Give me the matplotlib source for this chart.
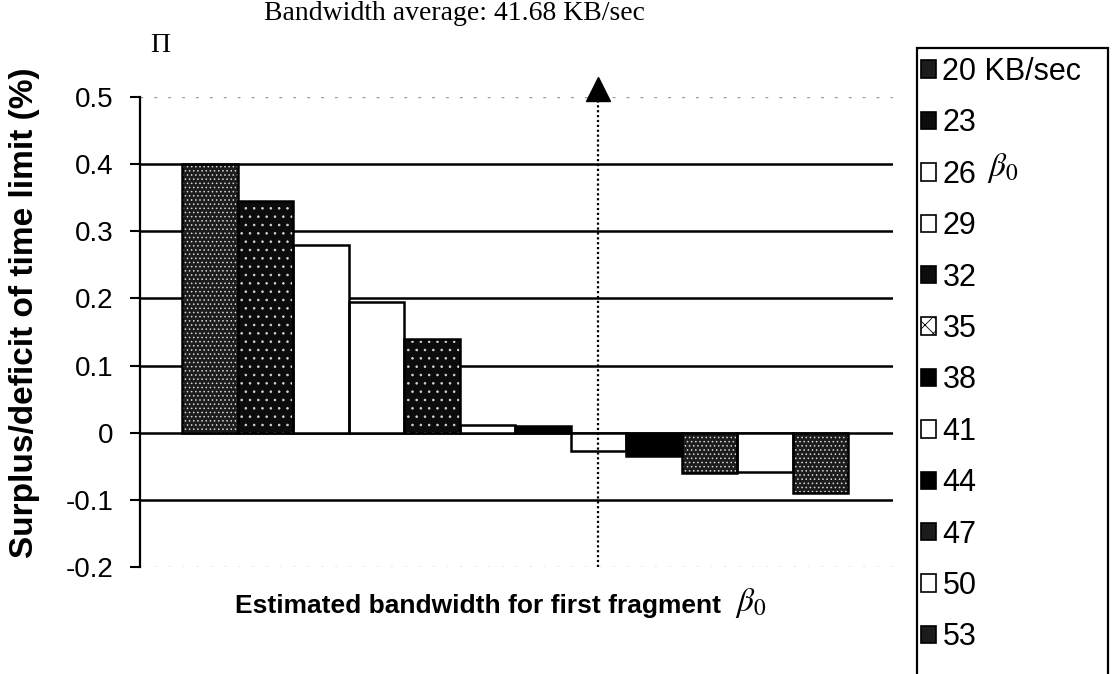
import matplotlib
matplotlib.use("Agg")
import matplotlib.pyplot as plt
from matplotlib.patches import Patch, Rectangle

# beta_0 guesses (KB/sec) and the resulting surplus/deficit of the time limit
labels = ["20 KB/sec", "23", "26", "29", "32", "35", "38", "41", "44", "47", "50", "53"]
values = [0.40, 0.345, 0.28, 0.195, 0.14, 0.012, 0.010, -0.027, -0.035, -0.060, -0.058, -0.090]
faces = ["#1c1c1c", "#0c0c0c", "white", "white", "#0c0c0c", "white",
         "black", "white", "black", "#1c1c1c", "white", "#1c1c1c"]
hatches = ["....", "..", "", "", "..", "", "", "", "", "....", "", "...."]
arrow_label = "41"          # bar nearest to the measured average
yticks = [0.5, 0.4, 0.3, 0.2, 0.1, 0.0, -0.1, -0.2]
ytick_text = ["0.5", "0.4", "0.3", "0.2", "0.1", "0", "-0.1", "-0.2"]

SANS = ["Liberation Sans Narrow", "Liberation Sans", "DejaVu Sans"]
SERIF = ["Liberation Serif", "DejaVu Serif"]

plt.rcParams["hatch.linewidth"] = 0.6

W, H = 1113, 674
fig = plt.figure(figsize=(W / 100, H / 100), dpi=100)
ax = fig.add_axes([140 / W, 1 - 567 / H, (893 - 140) / W, (567 - 97) / H])

x = list(range(len(values)))
# speckle fill (light hatch) then a black outline on top
ax.bar(x, values, width=1.0, color=faces, edgecolor="#d8d8d8", hatch=hatches,
       linewidth=0, zorder=3)
ax.bar(x, values, width=1.0, fill=False, edgecolor="black", linewidth=1.8, zorder=4)

ax.set_xlim(-0.5 - 42 / 55.5, len(values) - 0.5 + 45 / 55.5)
ax.set_ylim(yticks[-1], yticks[0])

# horizontal grid: solid inside, faint dotted at the limits
for t in yticks:
    if t in (yticks[0], yticks[-1]):
        ax.axhline(t, color="#9a9a9a", lw=1.0, ls=(0, (2, 8)), zorder=1)
    else:
        ax.axhline(t, color="black", lw=1.8, zorder=2)

ax.set_yticks(yticks)
ax.set_yticklabels(ytick_text, family=SANS, fontsize=20)
ax.tick_params(axis="y", direction="out", length=7, width=1.5, pad=12)
ax.set_xticks([])
for s in ["top", "right", "bottom"]:
    ax.spines[s].set_visible(False)
ax.spines["left"].set_linewidth(1.6)

# dotted arrow at the average bandwidth
xa = labels.index(arrow_label)
ax.plot([xa, xa], [yticks[-1], yticks[0]], color="black", lw=1.6,
        ls=(0, (1, 1.2)), zorder=5)
ax.plot([xa], [0.512], marker="^", ms=17, color="black", clip_on=False, zorder=6)

# texts
fig.text(454 / W, 1 - 14 / H, "Bandwidth average: 41.68 KB/sec", family=SERIF,
         fontsize=20, ha="center", va="center")
fig.text(160 / W, 1 - 45 / H, "\u03a0", family=SERIF, fontsize=20,
         ha="center", va="center")
fig.text(25 / W, 1 - 313 / H, "Surplus/deficit of time limit (%)", family=SANS,
         fontsize=24, fontweight="bold", rotation=90, ha="center", va="center")
fig.text(478 / W, 1 - 606 / H, "Estimated bandwidth for first fragment", family=SANS,
         fontsize=19, fontweight="bold", ha="center", va="center")
fig.text(751 / W, 1 - 603 / H, r"$\beta_0$", fontsize=24, ha="center", va="center",
         math_fontfamily="stix")

# legend (frame drawn by hand, runs off the bottom of the figure)
fig.patches.append(Rectangle((917 / W, -0.05), (1108 - 917) / W, 1.05 - 48 / H,
                             transform=fig.transFigure, fill=False,
                             edgecolor="black", lw=1.6))
handles = [Patch(facecolor=f, edgecolor="black", lw=1.2,
                 hatch="xx" if lab == "35" else None) for f, lab in zip(faces, labels)]
leg = fig.legend(handles, labels, loc="upper left",
                 bbox_to_anchor=(921 / W, 1 - 57 / H), frameon=False,
                 prop={"family": SANS, "size": 22}, handlelength=0.5,
                 handleheight=0.5, handletextpad=0.2, labelspacing=0.70,
                 borderaxespad=0, borderpad=0)
fig.text(1003 / W, 1 - 168 / H, r"$\beta_0$", fontsize=24, ha="center", va="center",
         math_fontfamily="stix")

fig.savefig("out.png", dpi=100)
